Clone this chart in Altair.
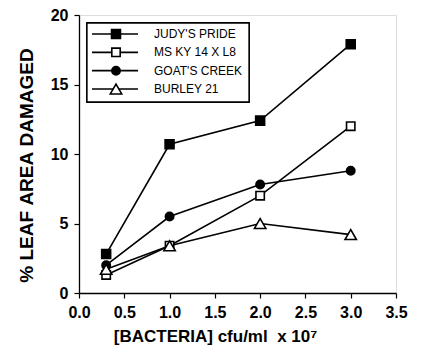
import altair as alt
import pandas as pd

x_vals = [0.3, 1.0, 2.0, 3.0]
series_names = ["JUDY'S PRIDE", "MS KY 14 X L8", "GOAT'S CREEK", "BURLEY 21"]
judy = [2.8, 10.7, 12.4, 17.9]
mskx = [1.3, 3.4, 7.0, 12.0]
goat = [2.0, 5.5, 7.8, 8.8]
burley = [1.7, 3.4, 5.0, 4.2]

shapes = ["square", "square", "circle", "triangle-up"]
fills = ["black", "white", "black", "white"]
sizes = [80, 70, 70, 130]

x_ticks = [i * 0.25 for i in range(15)]
y_ticks = [i * 2.5 for i in range(9)]

rows = []
for name, vals in zip(series_names, [judy, mskx, goat, burley]):
    for xv, yv in zip(x_vals, vals):
        rows.append({"series": name, "x": xv, "y": yv})
df = pd.DataFrame(rows)
leg = pd.DataFrame({"series": series_names})

FONT = "Liberation Sans"

shape_scale = alt.Scale(domain=series_names, range=shapes)
fill_scale = alt.Scale(domain=series_names, range=fills)
size_scale = alt.Scale(type="ordinal", domain=series_names, range=sizes)

xenc = alt.X(
    "x:Q",
    scale=alt.Scale(domain=[0, 3.5], nice=False),
    axis=alt.Axis(
        values=x_ticks,
        labelExpr="datum.value % 0.5 == 0 ? format(datum.value, '.1f') : ''",
        tickSize=alt.condition("datum.value % 0.5 == 0", alt.value(5), alt.value(3)),
        labelPadding=6,
        labelOverlap=False,
        labelFlush=False,
        labelFont=FONT, labelFontSize=16, labelFontWeight="bold", labelColor="black",
        title="[BACTERIA] cfu/ml\u00a0\u00a0x 10⁷",
        titleFont=FONT, titleFontSize=17, titleFontWeight="bold", titleColor="black",
        titleX=136, titleY=43, titleBaseline="middle", titleAlign="center",
        domainColor="black", tickColor="black", domainWidth=1.3, tickWidth=1.2,
        grid=False,
    ),
)
yenc = alt.Y(
    "y:Q",
    scale=alt.Scale(domain=[0, 20], nice=False),
    axis=alt.Axis(
        values=y_ticks,
        labelExpr="datum.value % 5 == 0 ? format(datum.value, 'd') : ''",
        tickSize=alt.condition("datum.value % 5 == 0", alt.value(5), alt.value(3)),
        labelPadding=6,
        labelOverlap=False,
        labelFlush=False,
        labelFont=FONT, labelFontSize=16, labelFontWeight="bold", labelColor="black",
        title="% LEAF\u00a0AREA\u00a0DAMAGED",
        titleFont=FONT, titleFontSize=19, titleFontWeight="bold", titleColor="black",
        titleX=-53, titleY=150, titleBaseline="middle", titleAlign="center", titleAngle=-90,
        domainColor="black", tickColor="black", domainWidth=1.3, tickWidth=1.2,
        grid=False,
    ),
)

lines = alt.Chart(df).mark_line(color="black", strokeWidth=1.6).encode(
    x=xenc, y=yenc, detail="series:N"
)
points = alt.Chart(df).mark_point(filled=True, stroke="black", strokeWidth=1.6, opacity=1).encode(
    x="x:Q", y="y:Q",
    shape=alt.Shape("series:N", scale=shape_scale, legend=None),
    fill=alt.Fill("series:N", scale=fill_scale, legend=None),
    size=alt.Size("series:N", scale=size_scale, legend=None),
)
main = alt.layer(lines, points)

ly = alt.Y("series:N", scale=alt.Scale(type="point", domain=series_names, range=[19, 74], padding=0), axis=None)
box = alt.Chart(leg).mark_rect(fill="white", stroke="black", strokeWidth=1.3).encode(
    x=alt.value(8), x2=alt.value(170), y=alt.value(8), y2=alt.value(87)
)
lrule = alt.Chart(leg).mark_rule(color="black", strokeWidth=1.6).encode(
    x=alt.value(13), x2=alt.value(59), y=ly
)
lpts = alt.Chart(leg).mark_point(filled=True, stroke="black", strokeWidth=1.6, opacity=1).encode(
    x=alt.value(37), y=ly,
    shape=alt.Shape("series:N", scale=shape_scale, legend=None),
    fill=alt.Fill("series:N", scale=fill_scale, legend=None),
    size=alt.Size("series:N", scale=size_scale, legend=None),
)
ltext = alt.Chart(leg).mark_text(align="left", baseline="middle", font=FONT, fontSize=12, color="black").encode(
    x=alt.value(75), y=ly, text="series:N"
)
legend = alt.layer(box, lrule, lpts, ltext)

chart = alt.layer(main, legend).resolve_scale(y="independent").properties(
    width=317, height=278,
    autosize=alt.AutoSizeParams(type="none"),
    padding={"left": 71, "top": 7, "right": 18, "bottom": 54},
).configure_view(stroke="black", strokeWidth=1.3).configure(background="white")

chart.save("out.html", embed_options={"renderer": "svg", "actions": False})
